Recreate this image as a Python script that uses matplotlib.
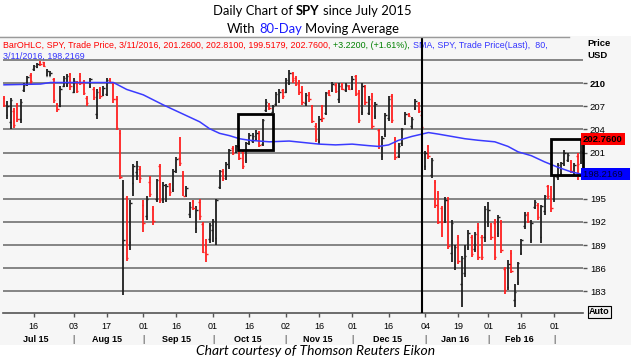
import matplotlib
matplotlib.use('Agg')

import matplotlib.pyplot as plt
import numpy as np
import pandas as pd
from matplotlib.patches import Rectangle
from matplotlib.lines import Line2D

W, H = 631, 358

# Trading calendar Jul 1 2015 - Mar 11 2016 (index 0 = Jul 1, not drawn)
holidays = ['2015-07-03', '2015-09-07', '2015-11-26', '2015-12-25',
            '2016-01-01', '2016-01-18', '2016-02-15']
days = pd.bdate_range('2015-07-01', '2016-03-11')
days = days[~days.isin(pd.to_datetime(holidays))]

# Daily OHLC, Jul 2 2015 .. Mar 11 2016
high = [208.3, 207.7, 208.1, 206.8, 207.4, 208.0, 210.0, 211.0, 211.4, 212.4,
        212.6, 212.9, 212.8, 211.9, 211.6, 210.7, 207.5, 209.6, 211.0, 211.2,
        211.4, 210.7, 210.3, 211.3, 210.4, 208.3, 210.7, 209.5, 209.2, 209.5,
        209.7, 210.7, 210.7, 210.1, 208.3, 203.9, 197.5, 195.4, 194.8, 199.5,
        199.9, 199.2, 194.8, 195.4, 198.0, 194.0, 197.6, 199.5, 197.2, 196.9,
        197.1, 198.9, 200.4, 203.0, 198.6, 196.6, 194.6, 194.9, 194.0, 195.0,
        192.0, 189.8, 191.8, 192.4, 195.0, 198.8, 198.9, 199.8, 201.5, 201.8,
        202.0, 202.0, 201.3, 202.4, 203.5, 203.5, 203.9, 203.8, 205.4, 207.9,
        207.4, 207.2, 208.9, 209.2, 209.3, 210.7, 211.7, 211.5, 210.9, 210.4,
        209.6, 208.8, 208.9, 207.2, 204.8, 205.7, 207.2, 208.9, 209.1, 210.2,
        210.0, 210.0, 210.0, 210.0, 209.8, 210.9, 211.1, 209.1, 210.0, 209.8,
        208.3, 208.7, 207.6, 204.1, 203.2, 206.2, 208.3, 208.6, 203.0, 202.2,
        204.2, 206.3, 206.1, 205.6, 208.0, 207.6, 206.1, 201.2, 202.0, 200.3,
        197.5, 196.0, 194.1, 195.2, 195.2, 192.2, 189.0, 190.3, 187.6, 189.0,
        191.0, 190.3, 190.7, 191.8, 190.3, 194.0, 194.6, 191.8, 192.4, 192.9,
        192.2, 186.2, 187.0, 188.3, 184.0, 186.8, 189.8, 193.3, 193.3, 192.2,
        194.8, 194.4, 194.2, 195.5, 196.8, 196.6, 198.1, 199.6, 199.8, 201.3,
        200.9, 200.0, 199.6, 200.9, 202.81]
low = [206.9, 205.4, 204.1, 204.2, 205.0, 204.9, 208.9, 209.7, 209.9, 211.6,
       212.0, 212.3, 212.1, 210.9, 210.9, 207.5, 206.3, 206.9, 209.5, 209.5,
       209.1, 208.7, 208.7, 209.8, 208.5, 207.0, 209.4, 207.8, 205.4, 208.0,
       208.3, 208.3, 210.0, 207.4, 203.9, 197.6, 182.5, 186.9, 188.3, 195.3,
       197.4, 197.0, 190.7, 192.3, 195.2, 191.6, 194.6, 194.4, 194.4, 194.6,
       195.4, 195.9, 198.3, 199.3, 195.3, 195.2, 192.5, 193.6, 190.5, 192.2,
       187.9, 186.8, 189.3, 189.4, 189.0, 196.3, 197.3, 197.4, 198.9, 200.7,
       200.9, 200.0, 198.9, 199.7, 202.0, 202.2, 202.5, 201.7, 201.8, 206.3,
       206.5, 206.1, 207.0, 207.4, 208.0, 208.7, 209.8, 210.0, 209.6, 208.5,
       207.2, 207.1, 207.6, 204.8, 202.4, 202.1, 205.0, 205.9, 208.3, 208.9,
       208.7, 207.5, 209.1, 208.9, 209.1, 209.1, 208.3, 204.8, 205.9, 207.2,
       205.9, 204.1, 205.4, 201.5, 200.1, 203.0, 205.1, 204.9, 200.1, 200.3,
       201.9, 204.6, 205.6, 204.1, 206.5, 206.1, 204.0, 198.8, 200.2, 197.7,
       193.8, 191.7, 190.0, 191.9, 188.5, 186.8, 185.7, 186.5, 181.0, 184.8,
       188.4, 187.5, 188.1, 187.0, 187.1, 189.4, 191.4, 189.7, 187.0, 190.1,
       187.9, 182.7, 183.1, 185.3, 181.0, 183.8, 187.7, 191.1, 191.8, 189.2,
       193.7, 192.2, 189.3, 192.9, 195.0, 193.3, 194.6, 197.4, 198.1, 199.2,
       199.8, 198.3, 197.9, 197.4, 199.5179]
opens = [208.1, 205.9, 205.0, 206.4, 207.2, 205.3, 209.1, 209.9, 211.1, 211.8,
         212.1, 212.8, 212.7, 211.0, 211.0, 210.5, 207.3, 207.1, 209.7, 209.8,
         211.2, 208.9, 210.1, 211.0, 210.2, 208.1, 209.6, 209.3, 206.0, 209.3,
         208.5, 208.6, 210.6, 209.9, 208.0, 203.6, 186.0, 195.1, 189.4, 197.0,
         198.5, 198.9, 194.2, 192.8, 197.2, 193.7, 195.0, 199.2, 195.0, 194.9,
         196.9, 196.3, 198.8, 200.3, 198.1, 195.5, 193.0, 194.7, 191.2, 194.6,
         191.7, 188.9, 189.8, 191.0, 189.9, 196.5, 198.6, 197.9, 199.3, 201.6,
         201.1, 201.8, 201.1, 200.0, 202.3, 202.5, 202.8, 203.5, 202.1, 206.5,
         207.2, 206.3, 207.3, 207.7, 209.1, 208.9, 210.1, 211.3, 210.7, 210.2,
         209.3, 207.4, 208.6, 207.0, 204.5, 202.5, 207.0, 206.2, 208.9, 209.1,
         209.8, 208.0, 209.8, 209.1, 209.7, 209.4, 210.9, 208.8, 206.3, 209.5,
         206.2, 208.4, 205.7, 203.9, 200.5, 203.4, 205.5, 208.3, 202.7, 200.6,
         202.2, 204.9, 206.0, 204.4, 206.8, 207.4, 205.9, 199.3, 201.8, 198.1,
         197.2, 195.7, 193.8, 192.3, 194.9, 188.0, 186.1, 190.0, 184.0, 185.3,
         188.8, 190.0, 188.5, 191.3, 190.0, 190.0, 191.8, 191.5, 191.9, 190.5,
         191.8, 185.9, 183.6, 188.0, 181.9, 184.2, 188.0, 191.5, 193.0, 189.6,
         193.9, 194.2, 190.0, 193.4, 196.6, 196.3, 195.0, 197.8, 198.4, 199.5,
         200.0, 199.8, 198.2, 200.6, 201.26]
closes = [207.2, 207.1, 207.8, 204.6, 205.3, 207.6, 209.8, 210.8, 210.3, 212.2,
          212.5, 212.5, 212.3, 211.6, 211.3, 207.8, 206.6, 209.3, 210.7, 211.0,
          209.6, 210.3, 209.0, 210.1, 208.8, 207.4, 210.5, 208.2, 208.9, 208.4,
          209.4, 210.4, 210.2, 208.0, 204.2, 197.8, 189.6, 187.3, 194.5, 199.2,
          199.3, 197.7, 191.8, 195.0, 195.6, 192.1, 197.4, 194.8, 196.8, 196.7,
          195.9, 198.6, 200.2, 199.6, 195.4, 196.4, 193.9, 193.8, 193.6, 192.8,
          188.1, 187.8, 191.6, 192.1, 194.9, 198.6, 197.7, 199.5, 201.3, 201.0,
          201.8, 200.3, 199.3, 202.2, 203.3, 203.2, 203.6, 202.0, 205.2, 207.6,
          206.8, 207.0, 208.6, 208.9, 208.3, 210.4, 211.4, 210.4, 209.9, 208.9,
          207.6, 208.5, 207.9, 205.1, 202.7, 205.4, 205.5, 208.7, 208.5, 209.9,
          209.0, 209.7, 209.3, 209.8, 209.3, 210.6, 208.6, 205.2, 209.7, 207.6,
          208.0, 204.5, 207.3, 201.8, 202.9, 205.9, 208.0, 205.2, 200.4, 201.9,
          204.0, 206.0, 205.7, 205.4, 207.7, 206.4, 204.3, 201.0, 200.6, 200.1,
          194.2, 192.0, 192.0, 194.9, 188.9, 191.9, 188.7, 186.9, 187.3, 187.6,
          190.5, 187.8, 190.4, 187.4, 187.5, 193.7, 193.6, 190.1, 187.4, 192.6,
          188.3, 183.1, 186.5, 185.6, 182.9, 186.6, 189.6, 192.9, 192.1, 191.9,
          194.6, 192.6, 194.0, 195.3, 195.3, 193.8, 197.9, 199.4, 199.6, 201.0,
          200.7, 198.6, 199.4, 199.5, 202.76]

# 80-day SMA read at a few points (trading-day index, value)
sma_day = [1, 12, 15, 30, 34, 38, 43, 49, 53, 58, 60, 63, 66, 69, 72, 75, 78,
           81, 87, 96, 101, 106, 111, 114, 117, 120, 124, 127, 129, 132, 136,
           140, 144, 149, 153, 156, 160, 164, 168, 172, 175]
sma_val = [209.8, 209.9, 210.1, 210.1, 210.1, 209.2, 208.5, 207.2, 206.4, 205.4,
           205.0, 204.1, 203.5, 203.2, 202.8, 202.6, 202.5, 202.4, 202.5, 202.1,
           202.0, 202.1, 201.9, 201.8, 202.0, 202.6, 203.1, 203.4, 203.6, 203.4,
           203.1, 202.8, 202.6, 202.4, 201.8, 201.1, 200.6, 199.8, 199.1, 198.5,
           198.2169]

price_ticks = [183, 186, 189, 192, 195, 198, 201, 204, 207, 210]
last_close = 202.76
last_sma = 198.2169

# highlighted zones: (first day, last day, low, high)
boxes = [(71.5, 82.0, 201.4, 206.0), (165.9, 175.7, 198.04, 202.7)]

day_ticks = ['2015-07-16', '2015-08-03', '2015-08-17', '2015-09-01', '2015-09-16',
             '2015-10-01', '2015-10-16', '2015-11-02', '2015-11-16', '2015-12-01',
             '2015-12-16', '2016-01-04', '2016-01-19', '2016-02-01', '2016-02-16',
             '2016-03-01']
months = ['Jul 15', 'Aug 15', 'Sep 15', 'Oct 15', 'Nov 15', 'Dec 15', 'Jan 16', 'Feb 16']

TXT = 'Liberation Sans'
TITLE = 'Lato'

fig = plt.figure(figsize=(W / 100, H / 100), dpi=100)
fig.patch.set_facecolor('white')

# chart panel background
fig.add_artist(Rectangle((0, 1 - 345 / H), 1, (345 - 36) / H, transform=fig.transFigure,
                         fc='#f6f6f6', ec='none', zorder=-5))

ax = fig.add_axes([2.5 / W, 1 - 313 / H, (583 - 2.5) / W, (313 - 38) / H])
ax.set_facecolor('none')
ax.set_xlim(0.55, 175.6)
ax.set_ylim(180.17, 215.88)

for v in range(183, 214, 3):
    ax.axhline(v, color='#7c7c7c', lw=1.3, zorder=1)

x = np.arange(1, len(days))
hi = np.array(high); lo = np.array(low); op = np.array(opens); cl = np.array(closes)
cols = np.where(cl < op, '#ff2020', '#1e1e1e')
ax.vlines(x, lo, hi, colors=cols, lw=1.3, zorder=3)
ax.hlines(op, x - 0.45, x, colors=cols, lw=1, zorder=3)
ax.hlines(cl, x, x + 0.45, colors=cols, lw=1, zorder=3)

ax.plot(sma_day, sma_val, color='#3a3aff', lw=1.1, zorder=4)

ax.axvline(127, color='black', lw=1.5, zorder=5)
for b in boxes:
    ax.add_patch(Rectangle((b[0], b[2]), b[1] - b[0], b[3] - b[2], fill=False,
                           ec='black', lw=2, zorder=6, clip_on=False))

for s in ['top', 'left', 'right']:
    ax.spines[s].set_visible(False)
ax.spines['bottom'].set_color('#555555')
ax.spines['bottom'].set_linewidth(1.2)

# right price axis (198 sits under the SMA value box)
ax.yaxis.tick_right()
ax.set_yticks(price_ticks)
ax.set_yticklabels(['' if t == 198 else str(t) for t in price_ticks], family=TXT, fontsize=6.8)
ax.tick_params(axis='y', length=3, width=1, color='#555555', pad=2)
ax.get_yticklabels()[-1].set_fontweight('bold')

ax.annotate(f'{last_close:.4f}', xy=(1.0, last_close), xycoords=('axes fraction', 'data'),
            ha='left', va='center', fontsize=6.8, fontweight='bold', family=TXT,
            color='black', bbox=dict(boxstyle='square,pad=0.2', fc='#ff0000', ec='none'),
            zorder=10, annotation_clip=False)
ax.annotate(f'{last_sma:.4f}  ', xy=(1.0, last_sma), xycoords=('axes fraction', 'data'),
            ha='left', va='center', fontsize=6.8, family=TXT,
            color='#00003a', bbox=dict(boxstyle='square,pad=0.2', fc='#0000ff', ec='none'),
            zorder=10, annotation_clip=False)

fig.text(587 / W, 1 - 43 / H, 'Price', fontsize=6.8, fontweight='bold', family=TXT, va='center')
fig.text(587 / W, 1 - 56 / H, 'USD', fontsize=6.8, fontweight='bold', family=TXT, va='center')
fig.text(589 / W, 1 - 312 / H, 'Auto', fontsize=6.5, fontweight='bold', family=TXT, va='center',
         bbox=dict(boxstyle='square,pad=0.15', fc='#f0f0f0', ec='black', lw=0.8))

# date axis
pos = [days.get_loc(pd.Timestamp(d)) for d in day_ticks]
ax.set_xticks(pos)
ax.set_xticklabels([pd.Timestamp(d).strftime('%d') for d in day_ticks], family=TXT, fontsize=6.5)
ax.tick_params(axis='x', length=3, width=1, color='#555555', pad=3.5)

month_id = days.year * 12 + days.month
trans = ax.get_xaxis_transform()
for i, m in enumerate(np.unique(month_id)[:len(months)]):
    idx = np.where(month_id == m)[0]
    ax.text(idx.mean(), -26 / 275, months[i], transform=trans, ha='center', va='center',
            fontsize=6.5, fontweight='bold', family=TXT)
for m in np.unique(month_id)[1:]:
    first = np.where(month_id == m)[0][0]
    ax.text(first, -26 / 275, '|', transform=trans, ha='center', va='center',
            fontsize=6.5, family=TXT, color='#333333')

# top separator line
fig.add_artist(Line2D([0, 569 / W], [1 - 37 / H, 1 - 37 / H], color='#9a9a9a', lw=1))


def chain(pieces, x_px, y_px, size, family, gap=2.2, center=False):
    parts = []
    for txt, color, weight in pieces:
        if not parts:
            t = fig.text(x_px / W, 1 - y_px / H, txt, color=color, fontsize=size,
                         fontweight=weight, family=family, va='center')
        else:
            t = ax.annotate(txt, xy=(1, 0.5), xycoords=parts[-1], xytext=(gap, 0),
                            textcoords='offset points', va='center', ha='left',
                            color=color, fontsize=size, fontweight=weight,
                            family=family, annotation_clip=False)
        parts.append(t)
    if center:
        r = fig.canvas.get_renderer()
        x0 = parts[0].get_window_extent(r).x0
        x1 = parts[-1].get_window_extent(r).x1
        parts[0].set_x(parts[0].get_position()[0] + (x_px - (x0 + x1) / 2) / W)
    return parts


chain([('BarOHLC, SPY, Trade Price, 3/11/2016, 201.2600, 202.8100, 199.5179, 202.7600,', '#ff0000', 'normal'),
       ('+3.2200, (+1.61%),', '#008000', 'normal'),
       ('SMA, SPY, Trade Price(Last),  80,', '#3333ff', 'normal')], 3, 45, 6.4, TXT, gap=2.0)
chain([('3/11/2016, 198.2169', '#3333ff', 'normal')], 3, 56, 6.4, TXT)

chain([('Daily Chart of', 'black', 'normal'), ('SPY', 'black', 'bold'),
       ('since July 2015', 'black', 'normal')], 312, 11, 9.4, TITLE, gap=2.5, center=True)
chain([('With', 'black', 'normal'), ('80-Day', '#1a1aff', 'normal'),
       ('Moving Average', 'black', 'normal')], 313, 29, 9.4, TITLE, gap=2.5, center=True)

fig.text(316 / W, 1 - 351 / H, 'Chart courtesy of Thomson Reuters Eikon', ha='center', va='center',
         fontsize=10, style='italic', family=TITLE)

fig.savefig('out.png', dpi=100)
